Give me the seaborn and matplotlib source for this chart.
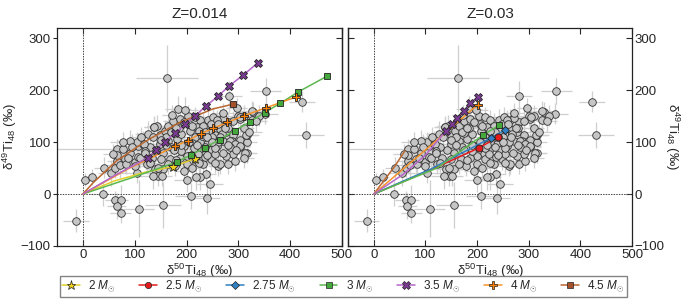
import matplotlib
matplotlib.use("Agg")
import matplotlib.pyplot as plt
from matplotlib.lines import Line2D
import seaborn as sns

# -------------------------
# Presolar grain data (same in both panels)
# -------------------------
grain_x = [-14, 4, 17, 39, 62, 73, 65, 73, 108, 155, 208, 239, 163, 353, 282, 430, 423,
           41, 55, 62, 66, 66, 78, 66, 58, 71, 91, 81, 100, 107, 107, 126, 137, 149, 158,
           165, 174, 187, 184, 203, 216, 226, 242, 252, 264, 281, 303, 300, 329, 351, 326,
           149, 165, 181, 190, 207, 220, 232, 248, 264, 277, 290, 303, 316, 287, 271, 258,
           242, 226, 213, 200, 187, 168, 155, 142, 129, 116, 133, 123, 139, 145, 136, 155,
           178, 200, 216, 232, 248, 261, 281, 293, 290, 316, 303, 237, 245, 226, 200, 316,
           313, 284, 293, 264, 310, 326, 339, 271, 258, 245, 255, 261, 239, 226, 216, 245,
           223, 236, 255, 277, 284, 303, 104, 91, 78, 297, 304, 271, 315, 219, 143, 197,
           172, 110, 104, 129, 145, 152, 100, 84, 118, 138,
           195, 210, 230, 175, 160, 185, 205, 250, 268, 235, 215, 190, 170, 255, 280, 120,
           170, 180, 195, 210, 225, 240, 260, 275, 290, 310, 320, 335, 150, 160, 175, 190,
           205, 220, 235, 250, 265, 280, 295, 310, 270, 255, 240, 225, 210, 195, 180, 165,
           150, 135, 120, 95, 88, 113]
grain_y = [-51, 28, 33, 1, -12, -12, -23, -36, -28, -21, -4, -8, 223, 199, 188, 114, 178,
           51, 41, 51, 63, 87, 87, 75, 77, 56, 80, 67, 61, 72, 93, 116, 129, 113, 122,
           132, 140, 145, 164, 151, 148, 142, 143, 148, 143, 138, 145, 151, 158, 155, 142,
           97, 103, 106, 116, 122, 129, 132, 135, 126, 119, 113, 104, 100, 103, 103, 93,
           90, 87, 77, 74, 70, 67, 80, 84, 90, 97, 70, 58, 48, 35, 35, 48,
           54, 58, 67, 58, 67, 54, 58, 64, 77, 80, 90, 38, 19, 32, 28, 113,
           80, 103, 97, 58, 151, 160, 151, 147, 142, 122, 113, 100, 97, 100, 109, 84,
           77, 71, 77, 74, 90, 93, 100, 103, 100, 166, 148, 156, 114, 32, 132, 162,
           152, 70, 41, 59, 51, 35, 54, 58, 96, 130,
           92, 98, 112, 118, 110, 128, 135, 110, 115, 120, 88, 82, 90, 88, 128, 82,
           120, 128, 138, 132, 122, 110, 135, 128, 140, 128, 120, 140, 105, 95, 85, 95,
           100, 95, 90, 100, 110, 95, 85, 70, 80, 60, 75, 60, 50, 45, 65, 58,
           68, 110, 80, 90, 70, 110]
grain_xerr = [25, 10, 12, 25, 20, 15, 18, 20, 30, 35, 30, 25, 60, 30, 25, 35, 25,
              20, 25, 20, 20, 150, 20, 15, 20, 25, 20, 20, 25, 20, 25, 25, 20, 20, 20,
              20, 20, 20, 25, 20, 20, 20, 20, 20, 20, 25, 20, 20, 25, 25, 20,
              25, 20, 25, 20, 20, 25, 20, 20, 20, 20, 25, 20, 20, 20, 20, 25,
              20, 25, 20, 20, 25, 20, 20, 30, 20, 25, 20, 20, 20, 20, 25, 20,
              20, 20, 20, 25, 20, 20, 20, 25, 20, 20, 20, 20, 25, 20, 25, 20,
              20, 20, 20, 20, 20, 20, 20, 20, 20, 20, 20, 20, 20, 20, 20, 20,
              20, 20, 20, 20, 20, 20, 20, 25, 25, 20, 20, 20, 25, 20, 20, 25,
              20, 20, 25, 20, 20, 20, 20, 20, 20, 20,
              25, 20, 20, 30, 20, 25, 20, 20, 25, 20, 20, 25, 20, 20, 25, 20,
              20, 25, 20, 20, 20, 25, 20, 20, 20, 20, 25, 20, 20, 20, 25, 20,
              20, 20, 20, 25, 20, 20, 20, 20, 20, 25, 20, 20, 20, 20, 20, 25,
              20, 20, 25, 20, 20, 20]
grain_yerr = [22, 12, 15, 25, 18, 30, 25, 20, 55, 45, 25, 30, 65, 25, 30, 25, 20,
              20, 25, 20, 25, 20, 20, 15, 20, 25, 20, 25, 20, 20, 25, 25, 20, 20, 20,
              20, 20, 20, 25, 20, 20, 20, 20, 20, 20, 20, 20, 20, 20, 20, 20,
              30, 20, 25, 20, 20, 20, 25, 20, 20, 20, 20, 25, 20, 20, 20, 20,
              20, 25, 20, 20, 20, 20, 30, 20, 20, 25, 20, 20, 20, 20, 25, 20,
              20, 20, 20, 20, 20, 20, 20, 20, 20, 20, 20, 25, 25, 25, 25, 20,
              20, 20, 20, 20, 20, 20, 20, 20, 20, 20, 20, 20, 20, 20, 20, 20,
              20, 20, 20, 20, 20, 20, 20, 20, 20, 20, 20, 20, 20, 25, 20, 25,
              20, 20, 20, 20, 20, 20, 20, 20, 20, 20,
              25, 20, 20, 35, 20, 25, 20, 20, 25, 20, 20, 25, 30, 20, 20, 20,
              20, 20, 25, 20, 20, 20, 20, 25, 20, 20, 20, 20, 25, 20, 20, 20,
              20, 25, 20, 20, 20, 20, 25, 20, 20, 20, 20, 20, 25, 20, 20, 20,
              20, 20, 20, 25, 20, 20]

# -------------------------
# Model predictions, Z = 0.014
# -------------------------
m2_z014_x = [0, 60, 120, 174, 216]
m2_z014_y = [0, 25, 42, 53, 68]
m3_z014_x = [0, 90, 182, 208, 235, 264, 293, 322, 351, 381, 416, 471]
m3_z014_y = [0, 30, 62, 75, 89, 105, 122, 139, 157, 175, 197, 227]
m35_z014_x = [0, 60, 125, 141, 158, 178, 197, 217, 238, 260, 282, 309, 338]
m35_z014_y = [0, 35, 70, 85, 101, 117, 134, 151, 170, 188, 208, 229, 253]
m4_z014_x = [0, 90, 178, 202, 227, 252, 279, 311, 353, 411]
m4_z014_y = [0, 50, 92, 103, 116, 127, 138, 151, 166, 187]
m45_z014_x = [0, 20, 65, 123, 187, 251, 289]
m45_z014_y = [0, 22, 64, 103, 138, 164, 173]

# -------------------------
# Model predictions, Z = 0.03
# -------------------------
m25_z03_x = [0, 102, 204, 241]
m25_z03_y = [0, 43, 89, 110]
m275_z03_x = [0, 110, 227, 255]
m275_z03_y = [0, 48, 108, 124]
m3_z03_x = [0, 122, 211, 243]
m3_z03_y = [0, 50, 113, 133]
m35_z03_x = [0, 57, 100, 140, 151, 162, 175, 187, 201]
m35_z03_y = [0, 38, 75, 122, 134, 146, 160, 175, 187]
m4_z03_x = [0, 99, 201]
m4_z03_y = [0, 84, 172]
m45_z03_x = [0, 41, 60]
m45_z03_y = [0, 54, 83]

masses = ["2", "2.5", "2.75", "3", "3.5", "4", "4.5"]

# line colour, marker face colour, marker
style = {
    "2": ("#e2cf2c", "#f2d21a", "*"),
    "2.5": ("#e41a1c", "#e41a1c", "o"),
    "2.75": ("#2f80c4", "#2f80c4", "D"),
    "3": ("#5cb84f", "#45a83c", "s"),
    "3.5": ("#b466c9", "#7b3b94", "X"),
    "4": ("#f5932a", "#ff7f00", "P"),
    "4.5": ("#b9672f", "#a5522a", "s"),
}
msize = {"*": 7, "o": 5, "D": 4.5, "s": 5, "X": 6, "P": 6}

sns.set_style("ticks")
plt.rcParams["font.family"] = ["Liberation Sans", "DejaVu Sans"]
plt.rcParams["mathtext.fontset"] = "custom"
plt.rcParams["mathtext.rm"] = "Liberation Sans"
plt.rcParams["mathtext.it"] = "Liberation Sans:italic"
plt.rcParams["axes.linewidth"] = 0.9


def draw_model(ax, xs, ys, mass, n_plain):
    lc, fc, mk = style[mass]
    ax.plot(xs, ys, color=lc, lw=1.1, zorder=4)
    if n_plain < len(xs):
        ax.plot(xs[n_plain:], ys[n_plain:], ls="none", marker=mk, ms=msize[mk],
                mfc=fc, mec="#222222", mew=0.6, zorder=5)


def draw_grains(ax):
    ax.errorbar(grain_x, grain_y, xerr=grain_xerr, yerr=grain_yerr, fmt="none",
                ecolor="#cfcfcf", elinewidth=0.9, zorder=1)
    sns.scatterplot(x=grain_x, y=grain_y, ax=ax, color="#c6c6c6", edgecolor="#303030",
                    linewidth=0.6, s=30, zorder=3, legend=False)
    ax.axhline(0, color="#444444", lw=0.7, ls=(0, (1.5, 1.2)), zorder=2)
    ax.axvline(0, color="#444444", lw=0.7, ls=(0, (1.5, 1.2)), zorder=2)


fig = plt.figure(figsize=(6.9, 3.04), dpi=100)
ax1 = fig.add_axes([0.0826, 0.191, 0.413, 0.717])
ax2 = fig.add_axes([0.5043, 0.191, 0.4116, 0.717])

draw_grains(ax1)
draw_model(ax1, m2_z014_x, m2_z014_y, "2", 3)
draw_model(ax1, m3_z014_x, m3_z014_y, "3", 2)
draw_model(ax1, m45_z014_x, m45_z014_y, "4.5", 6)
draw_model(ax1, m4_z014_x, m4_z014_y, "4", 2)
draw_model(ax1, m35_z014_x, m35_z014_y, "3.5", 2)

draw_grains(ax2)
draw_model(ax2, m45_z03_x, m45_z03_y, "4.5", 3)
draw_model(ax2, m25_z03_x, m25_z03_y, "2.5", 2)
draw_model(ax2, m275_z03_x, m275_z03_y, "2.75", 2)
draw_model(ax2, m3_z03_x, m3_z03_y, "3", 2)
draw_model(ax2, m4_z03_x, m4_z03_y, "4", 2)
draw_model(ax2, m35_z03_x, m35_z03_y, "3.5", 3)

xlab = "δ$^{50}$Ti$_{48}$ (‰)"
ylab = "δ$^{49}$Ti$_{48}$ (‰)"
yt = [-100, 0, 100, 200, 300]

for ax, title in [(ax1, "Z=0.014"), (ax2, "Z=0.03")]:
    ax.set_xlim(-50, 500)
    ax.set_ylim(-100, 320)
    ax.set_xticks([0, 100, 200, 300, 400, 500])
    ax.set_yticks(yt)
    ax.set_title(title, fontsize=11, pad=7)
    ax.set_xlabel(xlab, fontsize=9.5, labelpad=0)
    ax.tick_params(axis="x", direction="in", top=True, length=4, labelsize=9.5, pad=2.5)
    for s in ax.spines.values():
        s.set_color("#222222")

ax1.set_ylabel(ylab, fontsize=9.5, labelpad=1)
ax1.tick_params(axis="y", direction="out", length=3, labelsize=9.5, pad=1.5)
sec1 = ax1.secondary_yaxis("right")
sec1.set_yticks(yt)
sec1.tick_params(direction="in", length=4, labelright=False)

ax2.yaxis.tick_right()
ax2.yaxis.set_label_position("right")
ax2.set_ylabel(ylab, fontsize=9.5, rotation=270, labelpad=12)
ax2.tick_params(axis="y", direction="in", length=4, labelsize=9.5, left=False, right=True,
                pad=2)
sec2 = ax2.secondary_yaxis("left")
sec2.set_yticks(yt)
sec2.tick_params(direction="in", length=4, labelleft=False)

handles = []
for m in masses:
    lc, fc, mk = style[m]
    handles.append(Line2D([], [], color=lc, lw=1.1, marker=mk, ms=msize[mk] - 0.5,
                          mfc=fc, mec="#222222", mew=0.5))
labels = [m + " $M_{\\odot}$" for m in masses]
fig.legend(handles, labels, loc="lower center", bbox_to_anchor=(0.4975, 0.005), ncol=7,
           fontsize=8.5, frameon=True, fancybox=False, edgecolor="#666666",
           handlelength=1.5, handletextpad=0.7, columnspacing=2.0, borderpad=0.2)

fig.savefig("out.png", dpi=100)
